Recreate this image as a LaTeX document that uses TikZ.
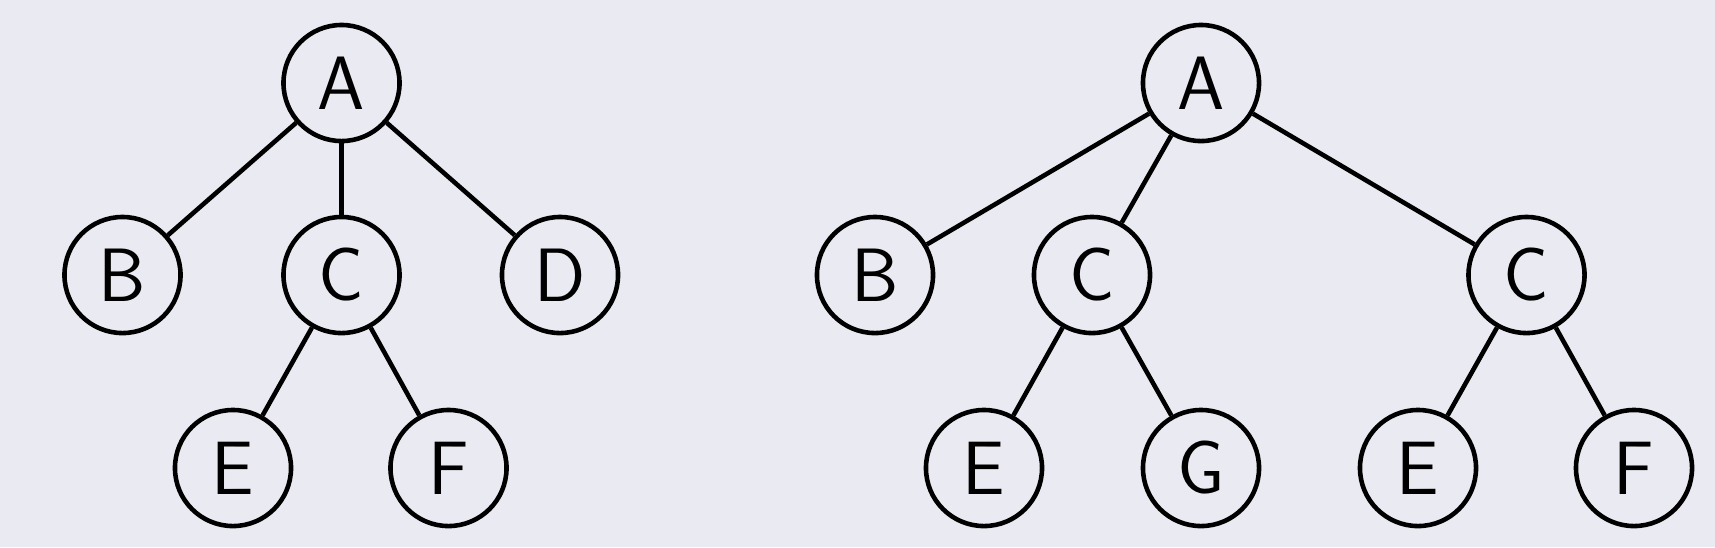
\documentclass[tikz,border=0pt]{standalone}
\definecolor{bgc}{HTML}{EAEAF2}
\begin{document}
\begin{tikzpicture}[x=0.01cm,y=-0.01cm,
  tnode/.style={circle,draw=black,line width=1.3pt,minimum size=1.16cm,inner sep=0pt,font=\fontsize{21.5}{25}\selectfont\sffamily},
  tedge/.style={line width=1.3pt}]
\fill[bgc] (0,0) rectangle (1715,547);
\useasboundingbox (0,0) rectangle (1715,547);
% left tree
\node[tnode] (la) at (341.5,83) {A};
\node[tnode] (lb) at (122.5,275) {B};
\node[tnode] (lc) at (341.5,275) {C};
\node[tnode] (ld) at (560,275) {D};
\node[tnode] (le) at (233,468) {E};
\node[tnode] (lf) at (448.5,468) {F};
\draw[tedge] (la) -- (lb);
\draw[tedge] (la) -- (lc);
\draw[tedge] (la) -- (ld);
\draw[tedge] (lc) -- (le);
\draw[tedge] (lc) -- (lf);
% right tree
\node[tnode] (ra) at (1201,83) {A};
\node[tnode] (rb) at (875,275) {B};
\node[tnode] (rc) at (1092,275) {C};
\node[tnode] (rc2) at (1526.5,275) {C};
\node[tnode] (re) at (984,468) {E};
\node[tnode] (rg) at (1201,468) {G};
\node[tnode] (re2) at (1418,468) {E};
\node[tnode] (rf) at (1634,468) {F};
\draw[tedge] (ra) -- (rb);
\draw[tedge] (ra) -- (rc);
\draw[tedge] (ra) -- (rc2);
\draw[tedge] (rc) -- (re);
\draw[tedge] (rc) -- (rg);
\draw[tedge] (rc2) -- (re2);
\draw[tedge] (rc2) -- (rf);
\end{tikzpicture}
\end{document}
